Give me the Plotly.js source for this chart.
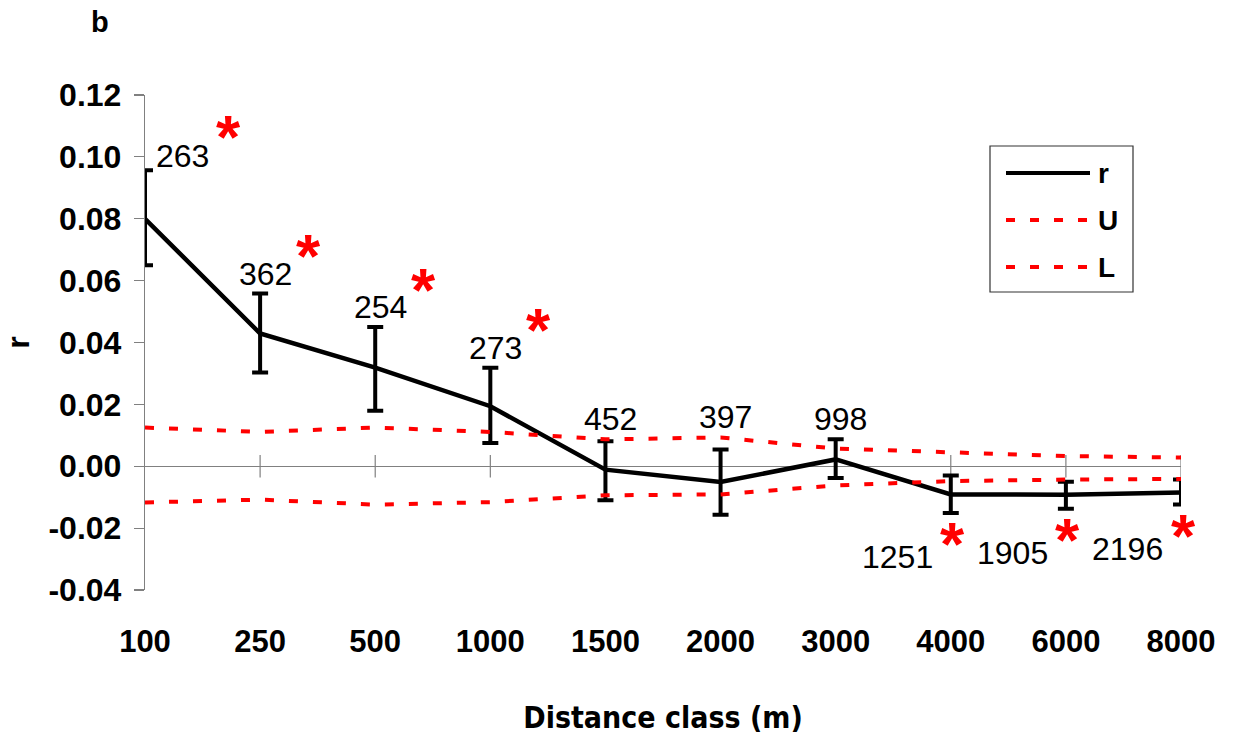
<!DOCTYPE html>
<html>
<head>
<meta charset="utf-8">
<script src="https://cdn.plot.ly/plotly-3.0.1.min.js"></script>
<style>
html,body{margin:0;padding:0;background:#fff;}
#chart{width:1233px;height:737px;}
</style>
</head>
<body>
<div id="chart"></div>
<script>
// ---- data ----
const categories = ['100','250','500','1000','1500','2000','3000','4000','6000','8000'];
const rValues    = [0.0800, 0.0429, 0.0319, 0.0194, -0.0011, -0.0051, 0.0022, -0.0091, -0.0092, -0.0085];
const rUpper     = [0.0957, 0.0558, 0.0450, 0.0318, 0.0081, 0.0054, 0.0087, -0.0030, -0.0050, -0.0043];
const rLower     = [0.0650, 0.0303, 0.0179, 0.0075, -0.0110, -0.0157, -0.0038, -0.0151, -0.0137, -0.0124];
const uValues    = [0.0125, 0.0111, 0.0125, 0.0111, 0.0087, 0.0093, 0.0057, 0.0046, 0.0033, 0.0028];
const lValues    = [-0.0117, -0.0108, -0.0124, -0.0116, -0.0094, -0.0091, -0.0062, -0.0048, -0.0043, -0.0041];
const pairCounts = ['263','362','254','273','452','397','998','1251','1905','2196'];
const significant = [true, true, true, true, false, false, false, true, true, true];
const yTickVals  = [-0.04, -0.02, 0.00, 0.02, 0.04, 0.06, 0.08, 0.10, 0.12];
const yTickText  = ['-0.04','-0.02','0.00','0.02','0.04','0.06','0.08','0.10','0.12'];

const AR = 'Liberation Sans, Arial, sans-serif';
const RED = '#ff0000';

const traces = [
  {
    name: 'r', x: categories, y: rValues, type: 'scatter', mode: 'lines',
    line: {color: '#000', width: 4.5},
    error_y: {
      type: 'data', symmetric: false,
      array: rValues.map((v, i) => rUpper[i] - v),
      arrayminus: rValues.map((v, i) => v - rLower[i]),
      color: '#000', thickness: 4, width: 8
    },
    showlegend: false, hoverinfo: 'skip'
  },
  {
    name: 'U', x: categories, y: uValues, type: 'scatter', mode: 'lines',
    line: {color: RED, width: 4, dash: '9px,15px'}, showlegend: false, hoverinfo: 'skip'
  },
  {
    name: 'L', x: categories, y: lValues, type: 'scatter', mode: 'lines',
    line: {color: RED, width: 4, dash: '9px,15px'}, showlegend: false, hoverinfo: 'skip'
  }
];

// ---- annotations: pair counts and significance stars (x = category index) ----
const annotations = [];
categories.forEach((c, i) => {
  const below = significant[i] && rValues[i] < 0;
  if (!below) {
    const base = Math.max(rUpper[i], uValues[i]);
    annotations.push({
      x: i, y: base, xref: 'x', yref: 'y', text: pairCounts[i], showarrow: false,
      xanchor: i === 0 ? 'left' : 'center', xshift: i === 0 ? 9 : 5,
      yanchor: 'bottom', yshift: i === 0 ? -6 : 0,
      font: {family: AR, size: 32, color: '#000'}
    });
    if (significant[i]) {
      annotations.push({
        x: i, y: base, xref: 'x', yref: 'y', text: '*', showarrow: false,
        xanchor: 'center', xshift: i === 0 ? 83 : 48, yanchor: 'middle', yshift: i === 0 ? 34 : 38,
        font: {family: AR, size: 62, color: RED, weight: 'bold'}
      });
    }
  } else {
    annotations.push({
      x: i, y: rLower[i], xref: 'x', yref: 'y', text: pairCounts[i], showarrow: false,
      xanchor: 'right', xshift: -16, yanchor: 'top', yshift: -24,
      font: {family: AR, size: 32, color: '#000'}
    });
    annotations.push({
      x: i, y: rLower[i], xref: 'x', yref: 'y', text: '*', showarrow: false,
      xanchor: 'center', xshift: 2, yanchor: 'middle', yshift: -31,
      font: {family: AR, size: 62, color: RED, weight: 'bold'}
    });
  }
});

// panel letter
annotations.push({
  xref: 'paper', yref: 'paper', x: -0.043, y: 1.148, text: 'b', showarrow: false,
  xanchor: 'center', yanchor: 'middle', font: {family: AR, size: 29, color: '#000', weight: 'bold'}
});

// ---- custom legend (box + samples + labels) ----
const px = v => (v - 145) / 1036;
const py = v => (590 - v) / 495;
const shapes = [];
shapes.push({type: 'rect', xref: 'paper', yref: 'paper', x0: px(990), x1: px(1133), y0: py(292), y1: py(146),
  line: {color: '#333', width: 1.2}, fillcolor: 'rgba(0,0,0,0)', layer: 'above'});
const legendItems = [
  {name: 'r', color: '#000', dash: 'solid', ypix: 173},
  {name: 'U', color: RED, dash: '9px,15px', ypix: 220},
  {name: 'L', color: RED, dash: '9px,15px', ypix: 267}
];
legendItems.forEach(it => {
  shapes.push({type: 'line', xref: 'paper', yref: 'paper', x0: px(1006), x1: px(1090), y0: py(it.ypix), y1: py(it.ypix),
    line: {color: it.color, width: 4, dash: it.dash}, layer: 'above'});
  annotations.push({xref: 'paper', yref: 'paper', x: px(1096), y: py(it.ypix), text: it.name, showarrow: false,
    xanchor: 'left', yanchor: 'middle', font: {family: AR, size: 28, color: '#000', weight: 'bold'}});
});

// crossing ticks on the zero line
categories.forEach((c, i) => {
  if (i === 0) return;
  shapes.push({type: 'line', xref: 'x', yref: 'y', x0: i, x1: i, y0: -0.0036, y1: 0.0036,
    line: {color: '#808080', width: 1.2}, layer: 'below'});
});

const layout = {
  width: 1233, height: 737,
  margin: {l: 145, r: 52, t: 95, b: 147},
  paper_bgcolor: '#fff', plot_bgcolor: '#fff',
  showlegend: false,
  xaxis: {
    type: 'category', categoryorder: 'array', categoryarray: categories,
    range: [0, 9], showgrid: false, zeroline: false, showline: false, ticks: '',
    tickfont: {family: AR, size: 31, color: '#000', weight: 'bold'},
    ticklabelstandoff: 30,
    title: {text: 'Distance class (m)', font: {family: 'DejaVu Sans Condensed, DejaVu Sans, sans-serif', size: 30, color: '#000', weight: 'bold'}, standoff: 48}
  },
  yaxis: {
    range: [-0.04, 0.12], tickvals: yTickVals, ticktext: yTickText,
    showgrid: false, showline: true, linecolor: '#808080', linewidth: 1.2,
    ticks: 'outside', ticklen: 10, tickcolor: '#808080', tickwidth: 1.2,
    zeroline: true, zerolinecolor: '#808080', zerolinewidth: 1.2,
    tickfont: {family: AR, size: 32, color: '#000', weight: 'bold'},
    ticklabelstandoff: 6,
    title: {text: 'r', font: {family: AR, size: 32, color: '#000', weight: 'bold'}, standoff: 18}
  },
  annotations: annotations,
  shapes: shapes
};

Plotly.newPlot('chart', traces, layout, {displayModeBar: false, staticPlot: true});
</script>
</body>
</html>
